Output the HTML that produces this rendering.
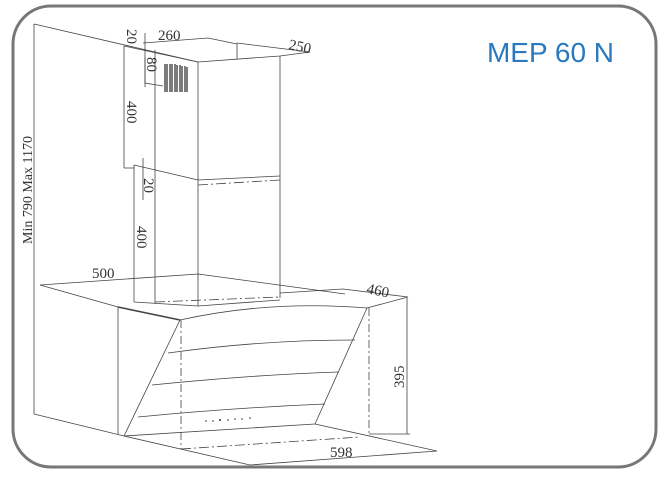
<!DOCTYPE html>
<html><head><meta charset="utf-8"><style>
html,body{margin:0;padding:0;background:#fff;}
svg{display:block;}
text{font-family:"Liberation Serif",serif;fill:#333;}
</style></head><body>
<svg width="665" height="480" viewBox="0 0 665 480" xmlns="http://www.w3.org/2000/svg">
<rect x="13" y="6" width="643" height="461" rx="38" ry="38" fill="#fff" stroke="#777" stroke-width="3"/>
<text x="487" y="62" font-size="28" style="font-family:'Liberation Sans',sans-serif;fill:#2a78bd" textLength="127" lengthAdjust="spacingAndGlyphs">MEP 60 N</text>
<g fill="none" stroke="#444" stroke-width="0.8">
<line x1="34" y1="24" x2="34" y2="414"/>
<line x1="34" y1="24" x2="198" y2="62"/>
<polyline points="143,43 208,38 237,44"/>
<polyline points="198,62 280,56 310,52 237,43"/>
<line x1="237" y1="43" x2="237" y2="59"/>
<polyline points="124,46 198,62"/>
<line x1="198" y1="62" x2="198" y2="306"/>
<line x1="280" y1="56" x2="280" y2="298"/>
<line x1="124" y1="46" x2="124" y2="168"/>
<line x1="145" y1="33" x2="145" y2="87"/>
<line x1="155" y1="50" x2="155" y2="303"/>
<polyline points="145,57 145,83 163,86"/>
<line x1="124" y1="168" x2="134" y2="168"/>
<polyline points="134,165 198,180 280,176"/>
<line x1="198" y1="185" x2="280" y2="180" stroke-dasharray="10,3,2,3"/>
<line x1="134" y1="165" x2="134" y2="302"/>
<line x1="143" y1="158" x2="143" y2="200"/>
<polyline points="40,285 198,274 345,294"/>
<line x1="40" y1="285" x2="118" y2="307"/>
<polyline points="134,302 198,306 280,300"/>
<line x1="155" y1="302" x2="280" y2="297" stroke-dasharray="10,3,2,3"/>
<polyline points="280,293 343,289 408,297 367,308"/>
<line x1="118" y1="307" x2="180" y2="320" stroke-width="1.6"/>
<path d="M180,320 Q270,300 367,308"/>
<line x1="180" y1="320" x2="124" y2="436"/>
<line x1="367" y1="308" x2="315" y2="424"/>
<path d="M168,353 Q260,340 355,340"/>
<path d="M152,385 Q250,375 339,372"/>
<path d="M138,417 Q230,408 325,404"/>
<line x1="124" y1="436" x2="315" y2="424"/>
<line x1="118" y1="307" x2="118" y2="434"/>
<line x1="369" y1="308" x2="369" y2="434" stroke-dasharray="8,3,2,3"/>
<line x1="181" y1="320" x2="181" y2="449" stroke-dasharray="8,3,2,3"/>
<line x1="407" y1="298" x2="407" y2="434"/>
<line x1="369" y1="434" x2="410" y2="434"/>
<line x1="34" y1="414" x2="124" y2="436"/>
<line x1="124" y1="436" x2="250" y2="465"/>
<line x1="250" y1="465" x2="437" y2="451"/>
<line x1="315" y1="424" x2="437" y2="451"/>
<line x1="181" y1="449" x2="360" y2="437" stroke-dasharray="10,3,2,3"/>
</g>
<g stroke="#111" stroke-width="1.1">
<line x1="165" y1="64" x2="165" y2="92"/><line x1="167" y1="64" x2="167" y2="92"/><line x1="170" y1="64" x2="170" y2="92"/><line x1="172" y1="64" x2="172" y2="92"/><line x1="175" y1="64" x2="175" y2="92"/><line x1="177" y1="65" x2="177" y2="92"/><line x1="180" y1="65" x2="180" y2="92"/><line x1="182" y1="66" x2="182" y2="92"/><line x1="185" y1="66" x2="185" y2="92"/><line x1="187" y1="67" x2="187" y2="92"/>
</g>
<g fill="#333"><circle cx="206" cy="421" r="0.8"/><circle cx="213" cy="421" r="0.8"/><circle cx="220" cy="420" r="1"/><circle cx="228" cy="420" r="0.8"/><circle cx="235" cy="419" r="0.8"/><circle cx="242" cy="419" r="0.8"/><circle cx="250" cy="418" r="0.8"/></g>
<g font-size="15">
<text x="158" y="40">260</text>
<text x="288" y="49" transform="rotate(12 288 49)">250</text>
<text x="92" y="278">500</text>
<text x="366" y="293" transform="rotate(12 366 293)">460</text>
<text x="330" y="457">598</text>
<text transform="translate(127,29) rotate(90)">20</text>
<text transform="translate(147,57) rotate(90)">80</text>
<text transform="translate(127,101) rotate(90)">400</text>
<text transform="translate(144,178) rotate(90)">20</text>
<text transform="translate(137,226) rotate(90)">400</text>
<text transform="translate(404,388) rotate(-90)">395</text>
<text transform="translate(32,244) rotate(-90)" font-size="14">Min 790 Max 1170</text>
</g>
</svg>
</body></html>
